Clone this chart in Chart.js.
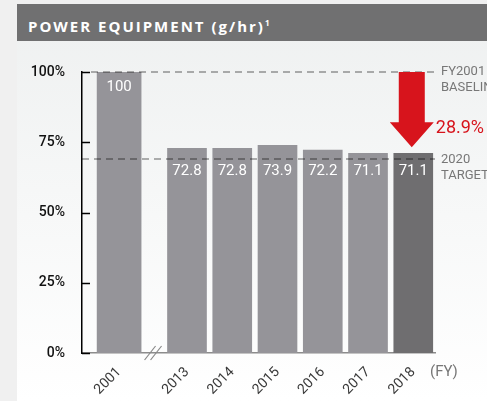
<!DOCTYPE html>
<html>
<head>
<meta charset="utf-8">
<script src="https://cdn.jsdelivr.net/npm/chart.js@4"></script>
<style>
  html, body { margin: 0; padding: 0; background: #f0f0f0; }
  #card { position: absolute; left: 17px; top: 4px; width: 470px; height: 397px;
          background: linear-gradient(#eef0f0, #ffffff); }
  #header { height: 37px; background: #707071; color: #fff; font-family: 'Open Sans', sans-serif;
            font-weight: 700; font-size: 15px; letter-spacing: 2px; line-height: 37px; padding-left: 11px; }
  #header sup { font-size: 8px; letter-spacing: 0; }
  #wrap { position: absolute; left: 0; top: 0; width: 487px; height: 401px; }
</style>
</head>
<body>
<div id="card"><div id="header">POWER EQUIPMENT (g/hr)<sup>1</sup></div></div>
<div id="wrap"><canvas id="chart"></canvas></div>
<script>
const years = ['2001', '2013', '2014', '2015', '2016', '2017', '2018'];
const values = [100, 72.8, 72.8, 73.9, 72.2, 71.1, 71.1];
const yTicks = [0, 25, 50, 75, 100];
const baseline = 100;
const target = 69;
const reductionLabel = '28.9%';
const baselineLabel = ['FY2001', 'BASELINE'];
const targetLabel = ['2020', 'TARGET'];

// 2001 sits apart from the rest, with a half slot of break between
const breakGap = 0.5;
const pos = years.map((y, i) => i + (i > 0 ? breakGap : 0));

const barGray = '#959499';
const barDark = '#6f6e70';
const red = '#d7141c';
const font = "'Roboto', sans-serif";

const overlay = {
  id: 'overlay',
  afterDatasetsDraw(chart) {
    const ctx = chart.ctx;
    const x = chart.scales.x, y = chart.scales.y;
    const area = chart.chartArea;
    ctx.save();

    // inward ticks on the y axis
    ctx.strokeStyle = '#000';
    ctx.lineWidth = 1.5;
    yTicks.forEach(v => {
      const py = Math.round(y.getPixelForValue(v)) + 0.5;
      ctx.beginPath(); ctx.moveTo(area.left, py); ctx.lineTo(area.left + 8, py); ctx.stroke();
    });

    // dashed reference lines
    ctx.strokeStyle = 'rgba(0,0,0,0.3)';
    ctx.lineWidth = 2;
    ctx.setLineDash([7, 5]);
    const by = y.getPixelForValue(baseline), ty = y.getPixelForValue(target);
    ctx.beginPath(); ctx.moveTo(area.left + 9, by); ctx.lineTo(area.right, by); ctx.stroke();
    ctx.beginPath(); ctx.moveTo(area.left, ty); ctx.lineTo(area.right, ty); ctx.stroke();
    ctx.setLineDash([]);

    // value labels
    ctx.fillStyle = '#fff';
    ctx.font = '15px ' + font;
    ctx.textAlign = 'center';
    ctx.textBaseline = 'middle';
    years.forEach((yr, i) => {
      const px = x.getPixelForValue(pos[i]);
      const py = i === 0 ? y.getPixelForValue(values[i]) + 15 : ty + 12;
      ctx.fillText(String(values[i]), px, py);
    });

    // reference labels
    ctx.fillStyle = '#777';
    ctx.font = '13px ' + font;
    ctx.textAlign = 'left';
    ctx.fillText(baselineLabel[0], area.right + 6, by);
    ctx.fillText(baselineLabel[1], area.right + 6, by + 16);
    ctx.fillText(targetLabel[0], area.right + 6, ty + 1);
    ctx.fillText(targetLabel[1], area.right + 6, ty + 17);
    ctx.font = '15px ' + font;
    ctx.fillText('(FY)', area.right - 5, area.bottom + 19);

    // red arrow from baseline to last bar
    const last = values.length - 1;
    const ax = x.getPixelForValue(pos[last]) - 1.5;
    const tip = y.getPixelForValue(values[last]) - 6;
    const head = 25;
    ctx.fillStyle = red;
    ctx.beginPath();
    ctx.moveTo(ax - 13, by);
    ctx.lineTo(ax + 13, by);
    ctx.lineTo(ax + 13, tip - head);
    ctx.lineTo(ax + 22, tip - head);
    ctx.lineTo(ax, tip);
    ctx.lineTo(ax - 22, tip - head);
    ctx.lineTo(ax - 13, tip - head);
    ctx.closePath();
    ctx.fill();
    ctx.font = '18px ' + font;
    ctx.fillText(reductionLabel, ax + 24, tip - 19);

    // axis break mark
    const bx = (x.getPixelForValue(pos[0]) + x.getPixelForValue(pos[1])) / 2;
    const ay = area.bottom;
    ctx.strokeStyle = '#888';
    ctx.lineWidth = 1.2;
    [-3, 3].forEach(d => {
      ctx.beginPath(); ctx.moveTo(bx + d - 5.5, ay + 7); ctx.lineTo(bx + d + 5.5, ay - 7); ctx.stroke();
    });
    ctx.restore();
  }
};

new Chart(document.getElementById('chart'), {
  type: 'bar',
  data: {
    datasets: [
      {
        data: [{ x: pos[0], y: values[0] }],
        backgroundColor: barGray,
        barThickness: 44,
        grouped: false
      },
      {
        data: years.slice(1).map((yr, i) => ({ x: pos[i + 1], y: values[i + 1] })),
        backgroundColor: years.slice(1).map((yr, i) => i === years.length - 2 ? barDark : barGray),
        barThickness: 39,
        grouped: false
      }
    ]
  },
  options: {
    responsive: true,
    maintainAspectRatio: false,
    animation: false,
    layout: { padding: { left: 0, right: 52, top: 72, bottom: 0 } },
    plugins: { legend: { display: false }, tooltip: { enabled: false } },
    scales: {
      x: {
        type: 'linear',
        min: -0.82,
        max: 6.98,
        offset: false,
        grid: { display: false },
        border: { color: '#8c8c8c', width: 1.5 },
        afterBuildTicks: s => { s.ticks = pos.map(v => ({ value: v })); },
        afterFit: s => { s.height = 48; },
        ticks: {
          autoSkip: false,
          minRotation: 45,
          maxRotation: 45,
          padding: 3,
          color: '#3a3a3a',
          font: { family: font, size: 14 },
          callback: v => years[pos.indexOf(v)]
        }
      },
      y: {
        min: 0,
        max: 100,
        grid: { display: false },
        border: { color: '#000', width: 1.5 },
        afterBuildTicks: s => { s.ticks = yTicks.map(v => ({ value: v })); },
        afterFit: s => { s.width = 82; },
        ticks: {
          padding: 9,
          color: '#111',
          font: { family: font, size: 14, weight: '500' },
          callback: v => v + '%'
        }
      }
    }
  },
  plugins: [overlay]
});
</script>
</body>
</html>
